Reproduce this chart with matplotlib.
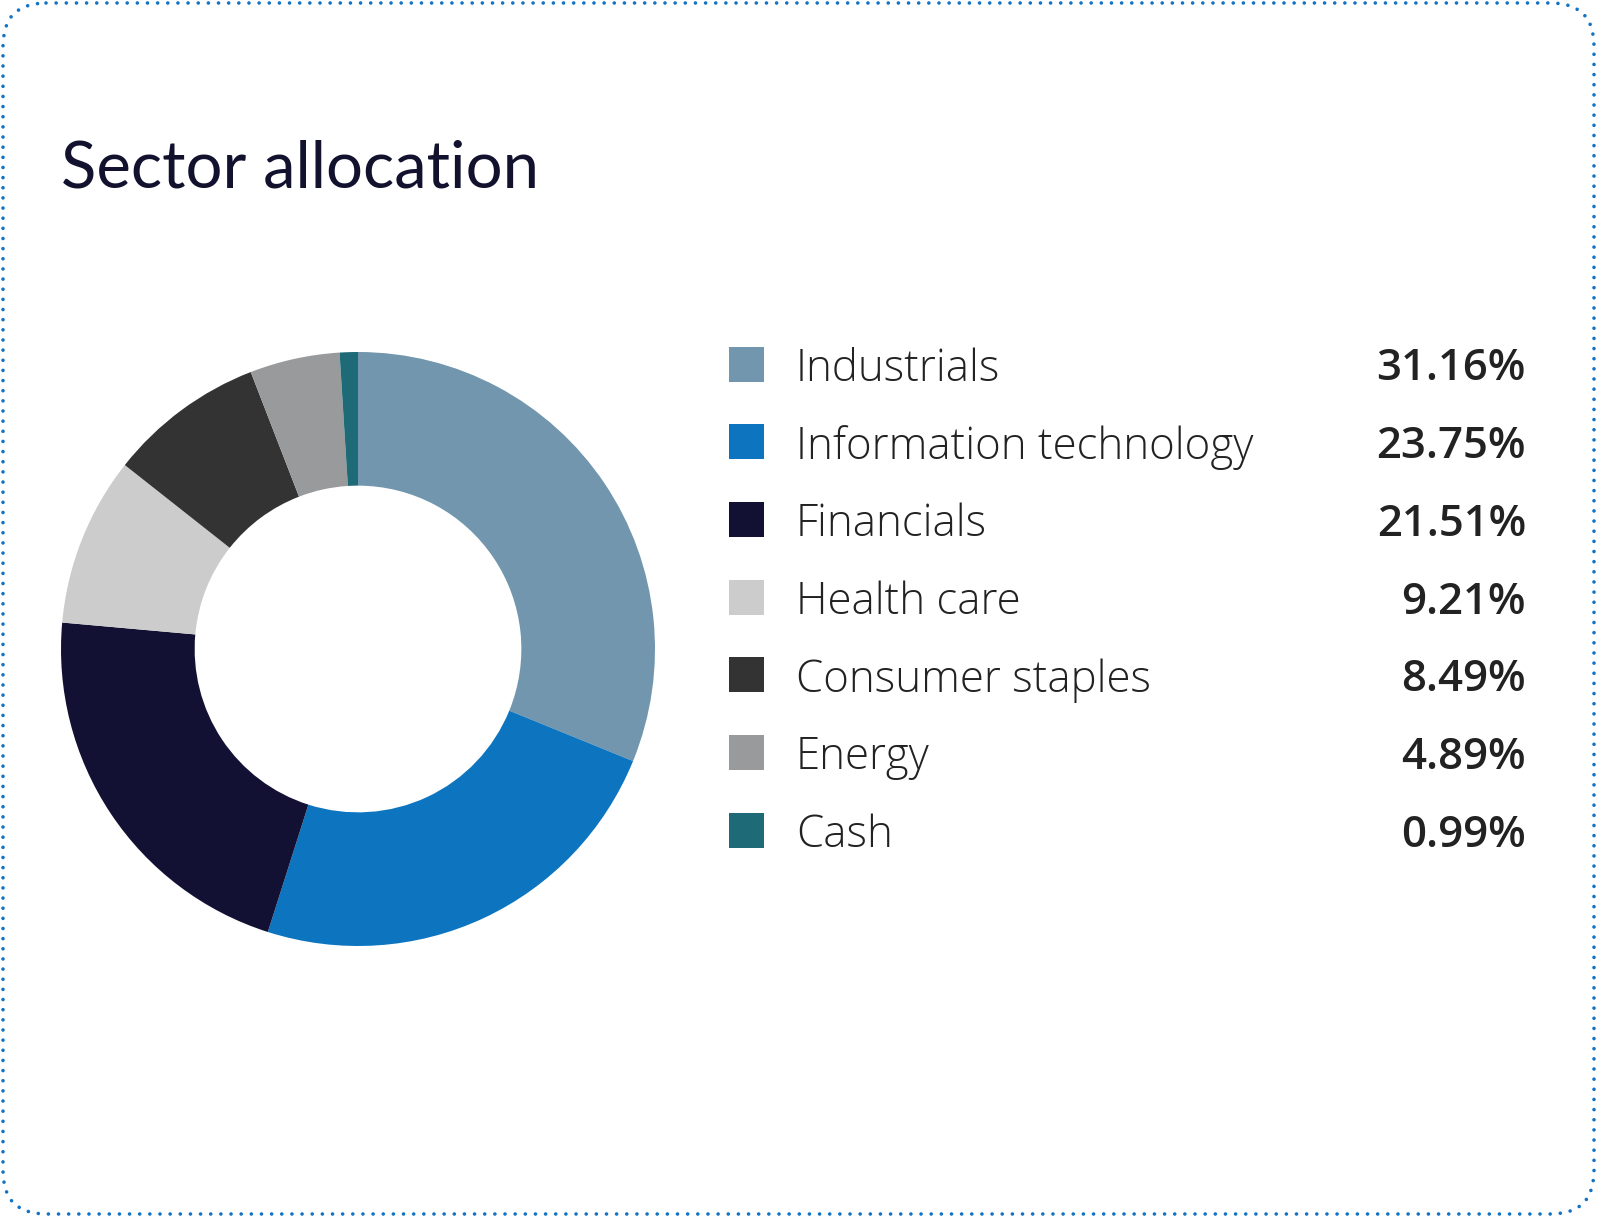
import matplotlib.pyplot as plt
from matplotlib.patches import FancyBboxPatch, Rectangle

# sector allocation data
sectors = ['Industrials', 'Information technology', 'Financials', 'Health care',
           'Consumer staples', 'Energy', 'Cash']
weights = [31.16, 23.75, 21.51, 9.21, 8.49, 4.89, 0.99]
colors = ['#7196ad', '#0d74bf', '#121133', '#cccccc', '#333333', '#999a9b', '#1e6b77']
title = 'Sector allocation'

W, H = 1597, 1217
fig = plt.figure(figsize=(W / 100, H / 100), dpi=100)

# overlay axes in pixel units (y down)
bg = fig.add_axes([0, 0, 1, 1])
bg.set_xlim(0, W)
bg.set_ylim(H, 0)
bg.axis('off')

border = FancyBboxPatch((3, 3), W - 6, H - 6,
                        boxstyle='round,pad=0,rounding_size=43',
                        fill=False, edgecolor='#1272c4', lw=2.6,
                        linestyle=(0, (0.01, 2.8)))
border.set_capstyle('round')
bg.add_patch(border)

bg.text(61, 188, title, fontsize=47, color='#12122f', family='Lato',
        ha='left', va='baseline')

# donut
cx, cy, R = 358, 649, 297
pie_ax = fig.add_axes([(cx - R) / W, 1 - (cy + R) / H, 2 * R / W, 2 * R / H])
pie_ax.pie(weights, colors=colors, startangle=90, counterclock=False, radius=1,
           wedgeprops=dict(width=0.45, linewidth=0))
pie_ax.set_xlim(-1, 1)
pie_ax.set_ylim(-1, 1)
pie_ax.set_aspect('equal')
pie_ax.axis('off')

# legend rows
y0, dy = 364, 77.7
sq = 35
for i, (name, val, c) in enumerate(zip(sectors, weights, colors)):
    y = y0 + i * dy
    bg.add_patch(Rectangle((729, y - sq / 2), sq, sq, facecolor=c, edgecolor='none'))
    bg.text(796, y, name, fontsize=31.6, color='#222222', family='Open Sans',
            fontweight='light', ha='left', va='center_baseline')
    bg.text(1526, y, f'{val:.2f}%', fontsize=31.5, color='#222222', family='Open Sans',
            fontweight='semibold', ha='right', va='center_baseline')

fig.savefig('out.png', dpi=100)
